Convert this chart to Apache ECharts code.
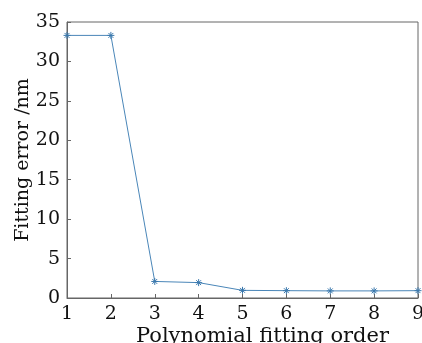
<!DOCTYPE html>
<html lang="en">
<head>
    <meta charset="UTF-8">
    <title>Fitting error</title>
    <script type="text/javascript" src="https://cdn.jsdelivr.net/npm/echarts@6/dist/echarts.min.js"></script>
    <style>html,body{margin:0;padding:0;background:#fff;}</style>
</head>
<body>
    <div id="main" style="width: 422px;height:343px;"></div>
    <script type="text/javascript">
        // data
        var orders = [1, 2, 3, 4, 5, 6, 7, 8, 9];
        var errors = [33.3, 33.3, 2.1, 1.95, 0.97, 0.93, 0.9, 0.9, 0.93];

        var myChart = echarts.init(document.getElementById('main'));
        var serif = '"DejaVu Serif", "Liberation Serif", serif';
        var star = 'path://M0,-5L0,5M-5,0L5,0M-3.5,-3.5L3.5,3.5M-3.5,3.5L3.5,-3.5';

        var option = {
            animation: false,
            grid: {
                left: 67, right: 4, top: 22, bottom: 45,
                outerBoundsMode: 'none',
                containLabel: false,
                show: true, borderColor: '#666', borderWidth: 1
            },
            xAxis: {
                type: 'value',
                min: 1, max: 9, interval: 1,
                name: 'Polynomial fitting order',
                nameLocation: 'middle',
                nameGap: 28,
                nameMoveOverlap: false,
                nameTextStyle: { fontFamily: serif, fontSize: 21, color: '#111', padding: [0, 0, 0, 40] },
                axisLine: { lineStyle: { color: '#666' } },
                axisTick: { inside: true, length: 4, lineStyle: { color: '#666' } },
                axisLabel: { fontFamily: serif, fontSize: 19, color: '#111', margin: 7 },
                splitLine: { show: false }
            },
            yAxis: {
                type: 'value',
                min: 0, max: 35, interval: 5,
                name: 'Fitting error /nm',
                nameLocation: 'middle',
                nameGap: 34,
                nameMoveOverlap: false,
                nameTextStyle: { fontFamily: serif, fontSize: 19, color: '#111' },
                axisLine: { show: true, lineStyle: { color: '#666' } },
                axisTick: { show: true, inside: true, length: 4, lineStyle: { color: '#666' } },
                axisLabel: { fontFamily: serif, fontSize: 19, color: '#111', margin: 7 },
                splitLine: { show: false }
            },
            series: [{
                type: 'line',
                data: orders.map(function (x, i) { return [x, errors[i]]; }),
                symbol: star,
                symbolSize: 7,
                lineStyle: { color: '#4a86b8', width: 1 },
                itemStyle: { color: 'none', borderColor: '#3a78ad', borderWidth: 1 }
            }]
        };

        myChart.setOption(option);
    </script>
</body>
</html>
